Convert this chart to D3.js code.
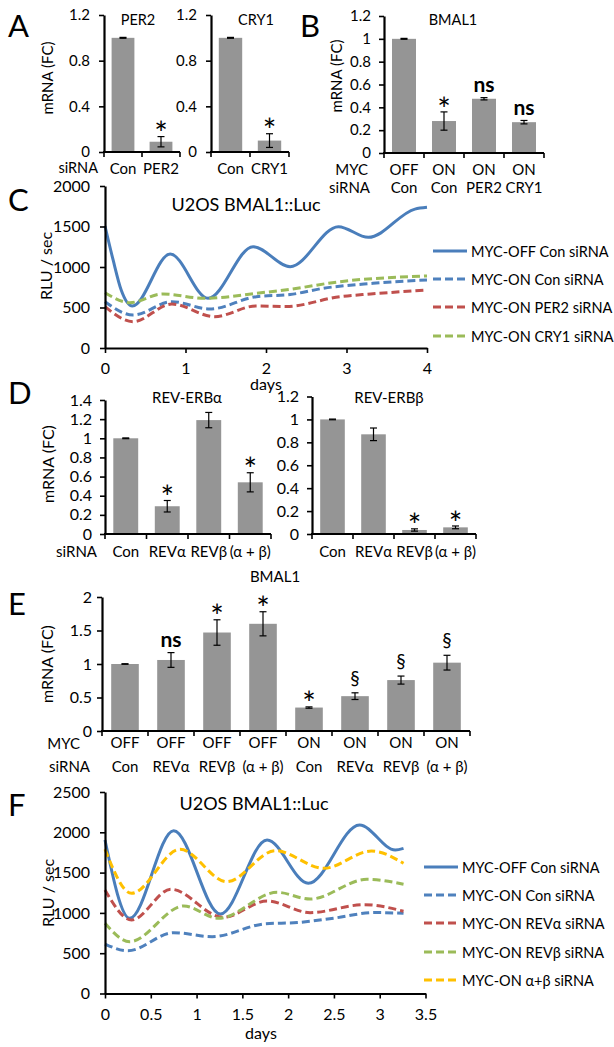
<!DOCTYPE html>
<html><head><meta charset="utf-8">
<script src="https://cdn.jsdelivr.net/npm/d3@7"></script>
<style>
body{margin:0;background:#fff}
svg{display:block}
text{font-family:Lato,"Open Sans",sans-serif;fill:#000}
</style>
</head><body>
<svg id="c" width="614" height="1047"></svg>
<script>
// ---------------- DATA ----------------
// Panel A
const aPer2Cats = ["Con", "PER2"];
const aPer2Vals = [1.0, 0.09];
const aPer2Errs = [0.004, 0.045];
const aPer2Sig = ["", "*"];
const aCry1Cats = ["Con", "CRY1"];
const aCry1Vals = [1.0, 0.10];
const aCry1Errs = [0.004, 0.06];
const aCry1Sig = ["", "*"];
const abTicksA = [0, 0.4, 0.8, 1.2];
// Panel B
const bMyc = ["OFF", "ON", "ON", "ON"];
const bSi = ["Con", "Con", "PER2", "CRY1"];
const bVals = [1.0, 0.28, 0.475, 0.27];
const bErrs = [0.004, 0.08, 0.01, 0.015];
const bSig = ["", "*", "ns", "ns"];
const bTicks = [0, 0.2, 0.4, 0.6, 0.8, 1, 1.2];
// Panel C  [days, RLU/sec]
const cMycOffCon = [[0,1506],[0.1,1090],[0.2,720],[0.34,519],[0.81,1160],[1.28,613],[1.84,1251],[2.30,1004],[2.90,1498],[3.27,1366],[3.85,1715],[4.0,1737]];
const cMycOnCon  = [[0,572],[0.35,407],[0.83,572],[1.30,481],[1.88,634],[2.30,660],[2.71,737],[3.33,798],[4.0,840]];
const cMycOnPer2 = [[0,510],[0.35,325],[0.83,543],[1.36,387],[1.88,519],[2.25,512],[2.92,634],[3.3,667],[4.0,716]];
const cMycOnCry1 = [[0,683],[0.31,560],[0.72,667],[1.24,613],[1.88,675],[2.30,725],[2.92,819],[4.0,889]];
const cNames = ["MYC-OFF Con siRNA", "MYC-ON Con siRNA", "MYC-ON PER2 siRNA", "MYC-ON CRY1 siRNA"];
const cYTicks = [0, 500, 1000, 1500, 2000];
const cXTicks = [0, 1, 2, 3, 4];
// Panel D
const dCats = ["Con", "REVα", "REVβ", "(α + β)"];
const dAlphaVals = [1.0, 0.29, 1.19, 0.54];
const dAlphaErrs = [0.004, 0.06, 0.08, 0.10];
const dAlphaSig = ["", "*", "", "*"];
const dAlphaTicks = [0, 0.2, 0.4, 0.6, 0.8, 1, 1.2, 1.4];
const dBetaVals = [1.0, 0.87, 0.035, 0.058];
const dBetaErrs = [0.003, 0.055, 0.01, 0.012];
const dBetaSig = ["", "", "*", "*"];
const dBetaTicks = [0, 0.2, 0.4, 0.6, 0.8, 1, 1.2];
// Panel E
const eMyc = ["OFF", "OFF", "OFF", "OFF", "ON", "ON", "ON", "ON"];
const eSi = ["Con", "REVα", "REVβ", "(α + β)", "Con", "REVα", "REVβ", "(α + β)"];
const eVals = [1.0, 1.06, 1.47, 1.60, 0.35, 0.52, 0.76, 1.02];
const eErrs = [0.004, 0.11, 0.19, 0.18, 0.01, 0.05, 0.06, 0.11];
const eSig = ["", "ns", "*", "*", "*", "§", "§", "§"];
const eTicks = [0, 0.5, 1, 1.5, 2];
// Panel F
const fMycOffCon = [[0,1904],[0.27,933],[0.75,2020],[1.26,986],[1.77,1904],[2.22,1367],[2.78,2090],[3.17,1780],[3.26,1801]];
const fMycOnCon  = [[0,614],[0.25,530],[0.75,755],[1.17,705],[1.75,865],[2.1,880],[2.5,935],[2.95,1005],[3.26,995]];
const fMycOnRevA = [[0,1284],[0.29,912],[0.72,1293],[1.29,945],[1.77,1148],[2.24,1003],[2.83,1102],[3.26,1021]];
const fMycOnRevB = [[0,871],[0.27,643],[0.86,1086],[1.24,933],[1.88,1255],[2.24,1172],[2.86,1417],[3.26,1355]];
const fMycOnAB   = [[0,1789],[0.29,1243],[0.82,1789],[1.33,1387],[1.86,1772],[2.39,1553],[2.91,1768],[3.26,1615]];
const fNames = ["MYC-OFF Con siRNA", "MYC-ON Con siRNA", "MYC-ON REVα siRNA", "MYC-ON REVβ siRNA", "MYC-ON α+β siRNA"];
const fYTicks = [0, 500, 1000, 1500, 2000, 2500];
const fXTicks = [0, 0.5, 1, 1.5, 2, 2.5, 3, 3.5];

// ---------------- DRAWING ----------------
const svg = d3.select("#c");
const BAR = "#959595";
const BLUE = "#4a7ebb", BLUE2 = "#4f81bd", RED = "#c0504d", GREEN = "#9bbb59", YEL = "#ffc000";

function txt(t, x, y, fs, anchor, opts) {
  opts = opts || {};
  const el = svg.append("text").attr("x", x).attr("y", y).attr("font-size", fs)
    .attr("text-anchor", anchor || "start").attr("dominant-baseline", opts.base || "central").text(t);
  if (opts.bold) el.attr("font-weight", "bold");
  if (opts.rot) el.attr("transform", `rotate(-90,${x},${y})`);
  return el;
}

function fmt(d) { return String(+(+d).toFixed(2)); }

function barChart(o) {
  const g = svg.append("g");
  const y = d3.scaleLinear().domain([0, o.max]).range([o.y0, o.yTop]);
  const x = d3.scaleBand().domain(d3.range(o.vals.length)).range([o.x0, o.x1])
    .paddingInner(0.4).paddingOuter(0.2);
  const bw = x.bandwidth();
  g.selectAll("rect.b").data(o.vals).join("rect").attr("class", "b")
    .attr("x", (d, i) => x(i)).attr("width", bw)
    .attr("y", d => y(d)).attr("height", d => o.y0 - y(d)).attr("fill", BAR);
  o.errs.forEach((e, i) => {
    const cx = x(i) + bw / 2, v = o.vals[i];
    const lo = y(v - e), hi = y(v + e);
    g.append("line").attr("x1", cx).attr("x2", cx).attr("y1", lo).attr("y2", hi).attr("stroke", "#000").attr("stroke-width", 1.2);
    [lo, hi].forEach(yy => g.append("line").attr("x1", cx - 3.5).attr("x2", cx + 3.5).attr("y1", yy).attr("y2", yy).attr("stroke", "#000").attr("stroke-width", 1.2));
    const s = o.sig ? o.sig[i] : "";
    if (s) {
      const top = hi;
      if (s === "*") txt("*", cx, top - 9 + 0.55 * 32, 32, "middle", { base: "alphabetic" });
      else if (s === "ns") txt("ns", cx, top - 11 + 0.26 * 21, 21, "middle", { base: "alphabetic", bold: true });
      else txt(s, cx, top - 14 + 0.31 * 19, 19, "middle", { base: "alphabetic" });
    }
  });
  const ya = d3.axisLeft(y).tickValues(o.ticks).tickSize(5).tickPadding(o.pad || 8).tickSizeOuter(0).tickFormat(fmt);
  const ag = g.append("g").attr("transform", `translate(${o.x0},0)`).call(ya);
  ag.select(".domain").attr("stroke-width", 2.2).attr("stroke", "#000");
  ag.selectAll(".tick line").attr("stroke-width", 1.6).attr("stroke", "#000");
  ag.selectAll(".tick text").attr("font-size", o.fs).attr("font-family", "Lato").attr("fill", "#000");
  g.append("line").attr("x1", o.x0 - 1).attr("x2", o.x1).attr("y1", o.y0).attr("y2", o.y0).attr("stroke", "#000").attr("stroke-width", 2.2);
  d3.range(o.vals.length + 1).forEach(i => {
    const xx = x(0) - x.step() * x.paddingOuter() + i * x.step();
    g.append("line").attr("x1", xx).attr("x2", xx).attr("y1", o.y0).attr("y2", o.y0 + 5).attr("stroke", "#000").attr("stroke-width", 1.6);
  });
  (o.rows || []).forEach(r => {
    r.labels.forEach((l, i) => txt(l, x(i) + bw / 2, r.y, o.lfs || 15, "middle"));
  });
  if (o.title) txt(o.title[0], o.title[1], o.title[2], o.tfs || 15, "middle");
  return { x, y };
}

function lineChart(o) {
  const g = svg.append("g");
  const x = d3.scaleLinear().domain([0, o.xmax]).range([o.x0, o.x1]);
  const y = d3.scaleLinear().domain([0, o.ymax]).range([o.y0, o.yTop]);
  const line = d3.line().x(d => x(d[0])).y(d => y(d[1])).curve(d3.curveMonotoneX);
  o.series.forEach(s => {
    g.append("path").attr("d", line(s.data)).attr("fill", "none").attr("stroke", s.color)
      .attr("stroke-width", 3).attr("stroke-dasharray", s.dash ? "8,4" : null);
  });
  const ya = d3.axisLeft(y).tickValues(o.yTicks).tickSize(5).tickPadding(10).tickSizeOuter(0).tickFormat(fmt);
  const ag = g.append("g").attr("transform", `translate(${o.x0},0)`).call(ya);
  const xa = d3.axisBottom(x).tickValues(o.xTicks).tickSize(5).tickPadding(10).tickSizeOuter(0).tickFormat(fmt);
  const bg = g.append("g").attr("transform", `translate(0,${o.y0})`).call(xa);
  [ag, bg].forEach(a => {
    a.select(".domain").attr("stroke-width", 2.2).attr("stroke", "#000");
    a.selectAll(".tick line").attr("stroke-width", 1.6).attr("stroke", "#000");
    a.selectAll(".tick text").attr("font-size", 16).attr("font-family", "Lato").attr("fill", "#000");
  });
  // legend
  o.series.forEach((s, i) => {
    const ly = o.legY[i];
    g.append("line").attr("x1", o.legX).attr("x2", o.legX + 34).attr("y1", ly).attr("y2", ly)
      .attr("stroke", s.color).attr("stroke-width", 3).attr("stroke-dasharray", s.dash ? "8,4" : null);
    txt(s.name, o.legX + 38, ly, 14.5, "start");
  });
  txt("U2OS BMAL1::Luc", o.titleX, o.titleY, 18, "middle");
  txt("days", o.daysX, o.daysY, 16, "middle");
  txt("RLU / sec", o.ylabX, o.ylabY, 16, "middle", { rot: true });
}

// Panel letters
txt("A", 8, 25, 31, "start");
txt("B", 300, 25, 31, "start");
txt("C", 8, 199, 31, "start");
txt("D", 8, 392, 31, "start");
txt("E", 8, 603, 31, "start");
txt("F", 8, 804, 31, "start");

// Panel A
barChart({ x0: 104, x1: 180, y0: 152, yTop: 15, max: 1.2, ticks: abTicksA, vals: aPer2Vals, errs: aPer2Errs, sig: aPer2Sig,
  fs: 15, pad: 9, rows: [{ y: 168, labels: aPer2Cats }], title: ["PER2", 138, 19], tfs: 14.5 });
barChart({ x0: 211, x1: 289, y0: 152, yTop: 15, max: 1.2, ticks: abTicksA, vals: aCry1Vals, errs: aCry1Errs, sig: aCry1Sig,
  fs: 15, pad: 9, rows: [{ y: 168, labels: aCry1Cats }], title: ["CRY1", 256, 19], tfs: 14.5 });
txt("mRNA (FC)", 47, 78, 15, "middle", { rot: true });
txt("siRNA", 98, 167, 14.5, "end");

// Panel B
barChart({ x0: 384, x1: 544, y0: 153, yTop: 16, max: 1.2, ticks: bTicks, vals: bVals, errs: bErrs, sig: bSig,
  fs: 15, pad: 8, rows: [{ y: 169, labels: bMyc }, { y: 187, labels: bSi }], title: ["BMAL1", 453, 19], tfs: 14.5 });
txt("mRNA (FC)", 336, 76, 15, "middle", { rot: true });
txt("MYC", 368, 169, 15, "end");
txt("siRNA", 370, 187, 15, "end");

// Panel C
lineChart({ x0: 105, x1: 427, xmax: 4, y0: 348, yTop: 186, ymax: 2000, yTicks: cYTicks, xTicks: cXTicks,
  series: [
    { data: cMycOffCon, color: BLUE, dash: false, name: cNames[0] },
    { data: cMycOnCon, color: BLUE2, dash: true, name: cNames[1] },
    { data: cMycOnPer2, color: RED, dash: true, name: cNames[2] },
    { data: cMycOnCry1, color: GREEN, dash: true, name: cNames[3] }
  ],
  legX: 433, legY: [251, 279, 307, 336], titleX: 246, titleY: 204, daysX: 266, daysY: 383, ylabX: 45, ylabY: 266 });

// Panel D
barChart({ x0: 105, x1: 271, y0: 534, yTop: 400, max: 1.4, ticks: dAlphaTicks, vals: dAlphaVals, errs: dAlphaErrs, sig: dAlphaSig,
  fs: 16, pad: 8, rows: [{ y: 551, labels: dCats }], title: ["REV-ERBα", 187, 397], tfs: 15 });
barChart({ x0: 312, x1: 476, y0: 534, yTop: 396.5, max: 1.2, ticks: dBetaTicks, vals: dBetaVals, errs: dBetaErrs, sig: dBetaSig,
  fs: 16, pad: 8, rows: [{ y: 551, labels: dCats }], title: ["REV-ERBβ", 389, 397], tfs: 15 });
txt("mRNA (FC)", 47, 464, 16, "middle", { rot: true });
txt("siRNA", 97, 551, 15, "end");

// Panel E
txt("BMAL1", 275, 576, 15, "middle");
barChart({ x0: 102, x1: 470, y0: 731, yTop: 597, max: 2, ticks: eTicks, vals: eVals, errs: eErrs, sig: eSig,
  fs: 16, pad: 5, rows: [{ y: 742, labels: eMyc }, { y: 766, labels: eSi }] });
txt("mRNA (FC)", 46, 664, 16, "middle", { rot: true });
txt("MYC", 80, 743, 15, "end");
txt("siRNA", 90, 766, 15, "end");

// Panel F
lineChart({ x0: 105, x1: 425.5, xmax: 3.5, y0: 993.5, yTop: 792, ymax: 2500, yTicks: fYTicks, xTicks: fXTicks,
  series: [
    { data: fMycOffCon, color: BLUE, dash: false, name: fNames[0] },
    { data: fMycOnCon, color: BLUE2, dash: true, name: fNames[1] },
    { data: fMycOnRevA, color: RED, dash: true, name: fNames[2] },
    { data: fMycOnRevB, color: GREEN, dash: true, name: fNames[3] },
    { data: fMycOnAB, color: YEL, dash: true, name: fNames[4] }
  ],
  legX: 424, legY: [867, 895, 923, 952, 980], titleX: 254, titleY: 803, daysX: 261, daysY: 1032, ylabX: 47, ylabY: 893 });
</script>
</body></html>
